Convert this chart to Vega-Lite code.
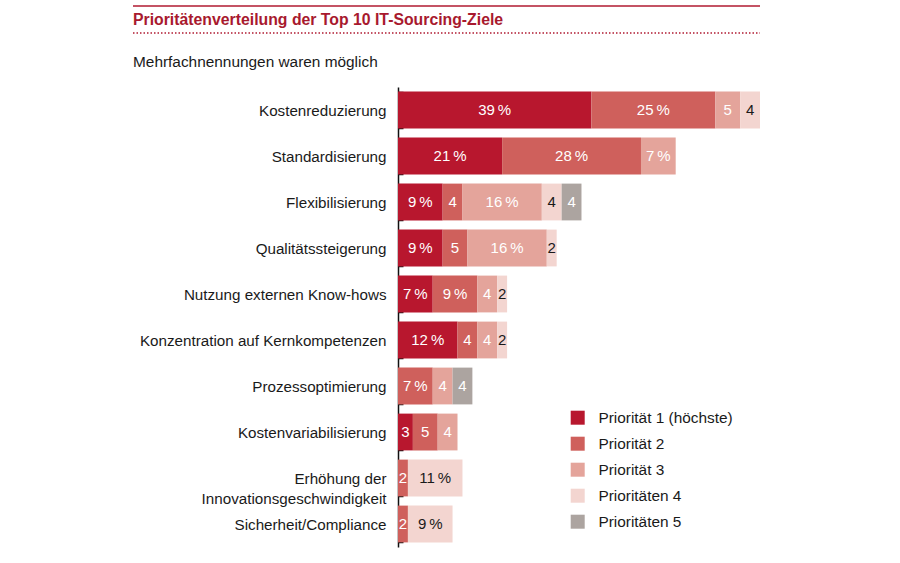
{
  "$schema": "https://vega.github.io/schema/vega-lite/v6.json",
  "background": "white",
  "padding": {"left": 132, "top": 5, "right": 10, "bottom": 5},
  "spacing": 20,
  "datasets": {
    "goals": [
      {"goal": "Kostenreduzierung", "p": 1, "value": 39},
      {"goal": "Kostenreduzierung", "p": 2, "value": 25},
      {"goal": "Kostenreduzierung", "p": 3, "value": 5},
      {"goal": "Kostenreduzierung", "p": 4, "value": 4},
      {"goal": "Standardisierung", "p": 1, "value": 21},
      {"goal": "Standardisierung", "p": 2, "value": 28},
      {"goal": "Standardisierung", "p": 3, "value": 7},
      {"goal": "Flexibilisierung", "p": 1, "value": 9},
      {"goal": "Flexibilisierung", "p": 2, "value": 4},
      {"goal": "Flexibilisierung", "p": 3, "value": 16},
      {"goal": "Flexibilisierung", "p": 4, "value": 4},
      {"goal": "Flexibilisierung", "p": 5, "value": 4},
      {"goal": "Qualitätssteigerung", "p": 1, "value": 9},
      {"goal": "Qualitätssteigerung", "p": 2, "value": 5},
      {"goal": "Qualitätssteigerung", "p": 3, "value": 16},
      {"goal": "Qualitätssteigerung", "p": 4, "value": 2},
      {"goal": "Nutzung externen Know-hows", "p": 1, "value": 7},
      {"goal": "Nutzung externen Know-hows", "p": 2, "value": 9},
      {"goal": "Nutzung externen Know-hows", "p": 3, "value": 4},
      {"goal": "Nutzung externen Know-hows", "p": 4, "value": 2},
      {"goal": "Konzentration auf Kernkompetenzen", "p": 1, "value": 12},
      {"goal": "Konzentration auf Kernkompetenzen", "p": 2, "value": 4},
      {"goal": "Konzentration auf Kernkompetenzen", "p": 3, "value": 4},
      {"goal": "Konzentration auf Kernkompetenzen", "p": 4, "value": 2},
      {"goal": "Prozessoptimierung", "p": 2, "value": 7},
      {"goal": "Prozessoptimierung", "p": 3, "value": 4},
      {"goal": "Prozessoptimierung", "p": 5, "value": 4},
      {"goal": "Kostenvariabilisierung", "p": 1, "value": 3},
      {"goal": "Kostenvariabilisierung", "p": 2, "value": 5},
      {"goal": "Kostenvariabilisierung", "p": 3, "value": 4},
      {"goal": "Erhöhung der|Innovationsgeschwindigkeit", "p": 2, "value": 2},
      {"goal": "Erhöhung der|Innovationsgeschwindigkeit", "p": 4, "value": 11},
      {"goal": "Sicherheit/Compliance", "p": 2, "value": 2},
      {"goal": "Sicherheit/Compliance", "p": 4, "value": 9}
    ],
    "headertext": [
      {"t": "Prioritätenverteilung der Top 10 IT-Sourcing-Ziele"}
    ]
  },
  "vconcat": [
    {
      "width": 362,
      "height": 27,
      "data": {"name": "headertext"},
      "layer": [
        {
          "mark": {"type": "rule", "color": "#b01a31", "strokeWidth": 1.5},
          "encoding": {
            "x": {"datum": -53.44, "type": "quantitative", "scale": {"domain": [0, 73], "nice": false}, "axis": null},
            "x2": {"datum": 73},
            "y": {"datum": 1, "type": "quantitative", "scale": {"domain": [0, 1]}, "axis": null}
          }
        },
        {
          "mark": {"type": "rule", "color": "#b01a31", "strokeWidth": 1.5, "strokeDash": [1.5, 2]},
          "encoding": {
            "x": {"datum": -53.44, "type": "quantitative"},
            "x2": {"datum": 73},
            "y": {"datum": 0, "type": "quantitative"}
          }
        },
        {
          "mark": {"type": "text", "align": "left", "baseline": "middle", "font": "Liberation Sans", "fontSize": 15.8, "fontWeight": "bold", "color": "#a8192e"},
          "encoding": {
            "x": {"datum": -53.44, "type": "quantitative"},
            "y": {"datum": 0.5, "type": "quantitative"},
            "text": {"field": "t"}
          }
        }
      ]
    },
    {
      "width": 362,
      "height": 460,
      "title": {
        "text": "Mehrfachnennungen waren möglich",
        "anchor": "start",
        "frame": "bounds",
        "font": "Liberation Sans",
        "fontSize": 15.4,
        "fontWeight": "normal",
        "color": "#1a1a1a",
        "offset": 10
      },
      "data": {"name": "goals"},
      "transform": [
        {"calculate": "['Priorität 1 (höchste)', 'Priorität 2', 'Priorität 3', 'Prioritäten 4', 'Prioritäten 5'][datum.p - 1]", "as": "prio"},
        {"stack": "value", "groupby": ["goal"], "sort": [{"field": "p"}], "as": ["v0", "v1"]},
        {"calculate": "(datum.v0 + datum.v1) / 2", "as": "mid"},
        {"calculate": "datum.value >= 7 ? datum.value + '\u202f%' : '' + datum.value", "as": "lbl"}
      ],
      "encoding": {
        "y": {
          "field": "goal",
          "type": "nominal",
          "sort": null,
          "scale": {"paddingInner": 0.2, "paddingOuter": 0.1},
          "axis": {
            "title": null,
            "labelExpr": "split(datum.label, '|')",
            "labelFont": "Liberation Sans",
            "labelFontSize": 15.2,
            "labelColor": "#1a1a1a",
            "labelLineHeight": 20,
            "labelPadding": 17,
            "labelLimit": 300,
            "tickBand": "extent",
            "tickSize": -5,
            "tickColor": "#111",
            "tickWidth": 1.5,
            "domainColor": "#111",
            "domainWidth": 1.5,
            "minExtent": 265,
            "maxExtent": 265
          }
        }
      },
      "layer": [
        {
          "mark": {"type": "bar"},
          "encoding": {
            "x": {"field": "v0", "type": "quantitative", "scale": {"domain": [0, 73], "nice": false}, "axis": null},
            "x2": {"field": "v1"},
            "color": {
              "field": "prio",
              "type": "nominal",
              "scale": {
                "domain": ["Priorität 1 (höchste)", "Priorität 2", "Priorität 3", "Prioritäten 4", "Prioritäten 5"],
                "range": ["#b8172e", "#cf605c", "#e4a49b", "#f3d5d0", "#aca4a0"]
              },
              "legend": {
                "title": null,
                "orient": "none",
                "legendX": 172,
                "legendY": 404,
                "symbolType": "square",
                "symbolSize": 196,
                "symbolStrokeWidth": 0,
                "labelFont": "Liberation Sans",
                "labelFontSize": 15.4,
                "labelColor": "#1a1a1a",
                "labelOffset": 13,
                "rowPadding": 9
              }
            }
          }
        },
        {
          "mark": {"type": "text", "align": "center", "baseline": "middle", "font": "Liberation Sans", "fontSize": 15},
          "encoding": {
            "x": {"field": "mid", "type": "quantitative"},
            "text": {"field": "lbl"},
            "color": {
              "condition": {"test": "datum.p == 4", "value": "#1a1a1a"},
              "value": "#ffffff"
            }
          }
        }
      ]
    }
  ],
  "config": {
    "view": {"stroke": null},
    "font": "Liberation Sans"
  }
}
